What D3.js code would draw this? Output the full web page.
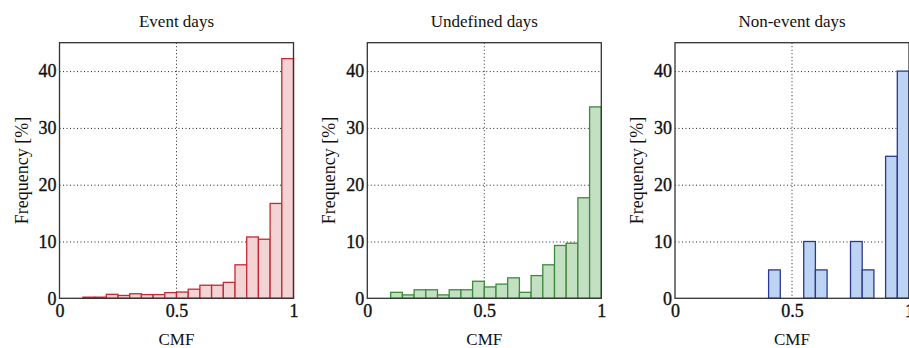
<!DOCTYPE html>
<meta charset="utf-8">
<style>
body { margin: 0; background: #fff; }
svg { display: block; }
text { font-family: "Liberation Serif", "Times New Roman", serif; fill: #111; }
.grid line { stroke: #222; stroke-dasharray: 1,2.5; stroke-width: 1; }
.frame { fill: none; stroke: #333; stroke-width: 1.3; }
</style>
<body>
<script src="https://d3js.org/d3.v7.min.js"></script>
<script>

// bin left edges (bin width 0.05)
var binStarts = [0.10, 0.15, 0.20, 0.25, 0.30, 0.35, 0.40, 0.45, 0.50, 0.55,
                 0.60, 0.65, 0.70, 0.75, 0.80, 0.85, 0.90, 0.95];

var eventDays = [0.2, 0.2, 0.7, 0.5, 0.8, 0.65, 0.65, 1.0, 1.1, 1.6,
                 2.3, 2.3, 2.8, 5.9, 10.8, 10.4, 16.7, 42.2];
var undefinedDays = [1.05, 0.6, 1.5, 1.5, 0.6, 1.5, 1.5, 3.0, 2.0, 2.5,
                     3.6, 1.05, 4.0, 5.9, 9.3, 9.7, 17.7, 33.7];
var nonEventDays = [0, 0, 0, 0, 0, 0, 5, 0, 0, 10,
                    5, 0, 0, 10, 5, 0, 25, 40];

var titles = ["Event days", "Undefined days", "Non-event days"];
var fills = ["#f3d3d3", "#c3e0c3", "#bcd3f4"];
var strokes = ["#c42a30", "#3c8a3c", "#2b3a8c"];
var xTicks = [0, 0.5, 1];
var xTickLabels = ["0", "0.5", "1"];
var yTicks = [0, 10, 20, 30, 40];

var series = [eventDays, undefinedDays, nonEventDays];
var binWidth = 0.05;

var W = 909, H = 348;
var svg = d3.select("body").append("svg").attr("width", W).attr("height", H);

var pw = 234, ph = 255.6, topM = 42.7;
var lefts = [59.5, 367.3, 675];

series.forEach(function(vals, i) {
  var g = svg.append("g").attr("transform", "translate(" + lefts[i] + "," + topM + ")");

  var x = d3.scaleLinear().domain([0, 1]).range([0, pw]);
  var y = d3.scaleLinear().domain([0, 45]).range([ph, 0]);

  // dotted grid
  var grid = g.append("g").attr("class", "grid");
  grid.selectAll(".gy").data(yTicks.slice(1)).enter().append("line")
    .attr("x1", 0).attr("x2", pw)
    .attr("y1", function(d) { return y(d) + 0.5; })
    .attr("y2", function(d) { return y(d) + 0.5; });
  grid.append("line")
    .attr("x1", x(0.5)).attr("x2", x(0.5))
    .attr("y1", 0).attr("y2", ph);

  // bars
  var data = binStarts.map(function(b, k) { return {x0: b, v: vals[k]}; })
    .filter(function(d) { return d.v > 0; });
  g.selectAll(".bar").data(data).enter().append("rect")
    .attr("class", "bar")
    .attr("x", function(d) { return x(d.x0); })
    .attr("width", function(d) { return x(d.x0 + binWidth) - x(d.x0); })
    .attr("y", function(d) { return y(d.v); })
    .attr("height", function(d) { return y(0) - y(d.v); })
    .style("fill", fills[i])
    .style("stroke", strokes[i])
    .style("stroke-width", 1.3);

  // axes
  var xAxis = d3.axisBottom(x).tickValues(xTicks)
    .tickFormat(function(d, k) { return xTickLabels[k]; })
    .tickSize(0).tickPadding(6);
  var yAxis = d3.axisLeft(y).tickValues(yTicks).tickSize(0).tickPadding(3);

  [g.append("g").attr("transform", "translate(0," + ph + ")").call(xAxis),
   g.append("g").call(yAxis)].forEach(function(ax) {
    ax.select(".domain").remove();
    ax.selectAll("text")
      .style("font-family", "Liberation Serif, serif")
      .style("font-size", "18px")
      .style("fill", "#111")
      .style("stroke", "#111").style("stroke-width", 0.35);
  });

  g.append("rect").attr("class", "frame")
    .attr("x", 0).attr("y", 0).attr("width", pw).attr("height", ph);

  g.append("text")
    .attr("x", pw / 2).attr("y", -16)
    .attr("text-anchor", "middle")
    .style("font-size", "17px")
    .text(titles[i]);

  g.append("text")
    .attr("x", pw / 2).attr("y", ph + 47)
    .attr("text-anchor", "middle")
    .style("font-size", "17px")
    .text("CMF");

  g.append("text")
    .attr("transform", "translate(-32," + (ph / 2) + ") rotate(-90)")
    .attr("text-anchor", "middle")
    .style("font-size", "18px")
    .text("Frequency [%]");
});

</script>
</body>
